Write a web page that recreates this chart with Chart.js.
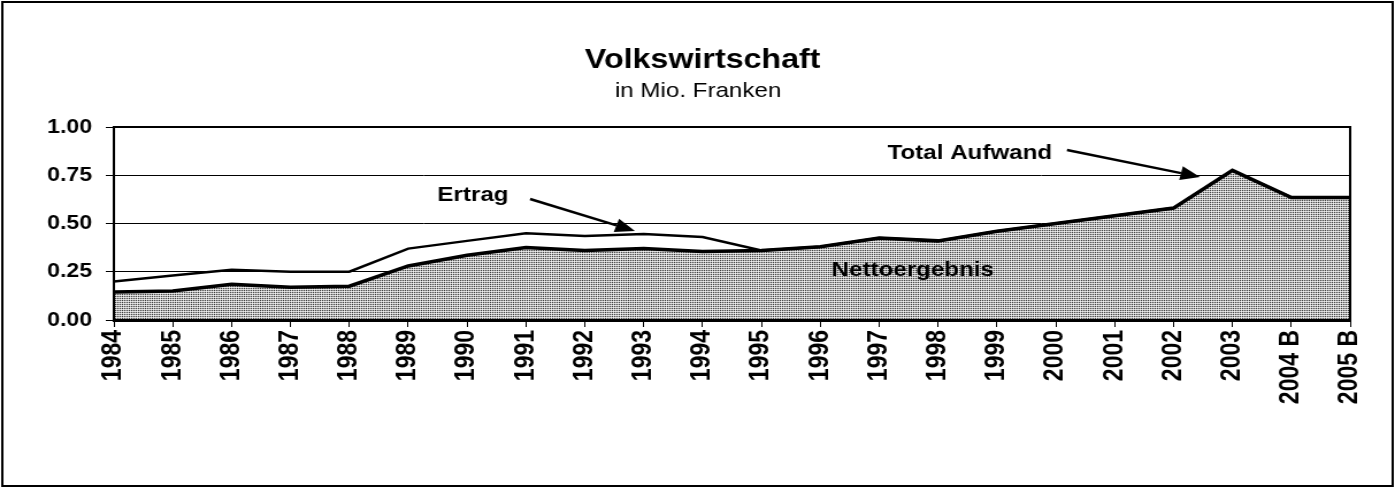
<!DOCTYPE html>
<html>
<head>
<meta charset="utf-8">
<script src="https://cdn.jsdelivr.net/npm/chart.js@4.4.1/dist/chart.umd.min.js"></script>
<style>
html, body { margin: 0; padding: 0; background: #fff; overflow: hidden; }
#wrap { width: 1213px; height: 488px; transform: scaleX(1.15004); transform-origin: 0 0; }
</style>
</head>
<body>
<div id="wrap"><canvas id="chart" width="1213" height="488"></canvas></div>
<script>
const years = ["1984","1985","1986","1987","1988","1989","1990","1991","1992","1993","1994",
    "1995","1996","1997","1998","1999","2000","2001","2002","2003","2004 B","2005 B"];
const ertrag = [0.20,0.23,0.26,0.25,0.25,0.37,0.41,0.45,0.435,0.445,0.43,
    0.36,0.38,0.425,0.41,0.46,0.50,0.54,0.58,0.775,0.635,0.635];
const aufwand = [0.145,0.15,0.185,0.17,0.175,0.28,0.335,0.375,0.36,0.37,0.355,
    0.36,0.38,0.425,0.41,0.46,0.50,0.54,0.58,0.775,0.635,0.635];
const yTicks = [0, 0.25, 0.5, 0.75, 1];

const FONT = "'Liberation Sans', Arial, sans-serif";

// grey stipple like the old excel fill
function stipple() {
    const c = document.createElement("canvas");
    c.width = 2; c.height = 2;
    const g = c.getContext("2d");
    g.fillStyle = "#c8c8c8";
    g.fillRect(0, 0, 2, 2);
    g.fillStyle = "#404040";
    g.fillRect(0, 0, 1, 1);
    g.fillStyle = "#f0f0f0";
    g.fillRect(1, 1, 1, 1);
    return g.createPattern(c, "repeat");
}

function arrow(ctx, x1, y1, x2, y2) {
    const a = Math.atan2(y2 - y1, x2 - x1);
    const len = 17, half = 7;
    const bx = x2 - Math.cos(a) * len, by = y2 - Math.sin(a) * len;
    ctx.beginPath();
    ctx.moveTo(x1, y1);
    ctx.lineTo(bx, by);
    ctx.lineWidth = 2.5;
    ctx.stroke();
    ctx.beginPath();
    ctx.moveTo(x2, y2);
    ctx.lineTo(bx + Math.sin(a) * half, by - Math.cos(a) * half);
    ctx.lineTo(bx - Math.sin(a) * half, by + Math.cos(a) * half);
    ctx.closePath();
    ctx.fill();
}

const decorations = {
    id: "decorations",
    afterDatasetsDraw(chart) {
        const ctx = chart.ctx;
        const area = chart.chartArea;
        const xs = chart.scales.x, ys = chart.scales.y;
        const px = v => xs.getPixelForValue(v);
        const py = v => ys.getPixelForValue(v);
        ctx.save();
        ctx.strokeStyle = "#000";
        ctx.fillStyle = "#000";

        // plot frame
        ctx.lineWidth = 2;
        ctx.strokeRect(area.left, area.top, area.right - area.left, area.bottom - area.top);

        // outer frame
        ctx.strokeRect(2, 2, chart.width - 4, chart.height - 4);

        // titles
        ctx.textAlign = "center";
        ctx.textBaseline = "middle";
        ctx.font = "bold 28px " + FONT;
        ctx.fillText("Volkswirtschaft", 611, 60);
        ctx.font = "21px " + FONT;
        ctx.fillText("in Mio. Franken", 607, 91);

        // annotations
        ctx.font = "bold 21px " + FONT;
        ctx.fillText("Ertrag", px(6.1), py(0.648));
        ctx.fillText("Total Aufwand", px(14.54), py(0.865));
        ctx.fillText("Nettoergebnis", px(13.57), py(0.259));
        arrow(ctx, px(7.07), py(0.627), px(8.85), py(0.461));
        arrow(ctx, px(16.19), py(0.881), px(18.45), py(0.741));
        ctx.restore();
    }
};

const ctx = document.getElementById("chart").getContext("2d");
new Chart(ctx, {
    type: "line",
    data: {
        labels: years,
        datasets: [
            {
                label: "Ertrag",
                data: ertrag,
                borderColor: "#000",
                borderWidth: 2.5,
                pointRadius: 0,
                fill: false,
                tension: 0
            },
            {
                label: "Total Aufwand",
                data: aufwand,
                borderColor: "#000",
                borderWidth: 3.5,
                backgroundColor: stipple(),
                pointRadius: 0,
                fill: "origin",
                tension: 0
            }
        ]
    },
    options: {
        responsive: false,
        devicePixelRatio: 1,
        animation: false,
        layout: { padding: { left: 0, top: 127, right: 39, bottom: 0 } },
        plugins: {
            legend: { display: false },
            tooltip: { enabled: false },
            title: { display: false }
        },
        scales: {
            x: {
                offset: false,
                afterFit: s => { s.height = 168; s.paddingLeft = 0; s.paddingRight = 0; },
                grid: { drawOnChartArea: false, drawTicks: true, tickLength: 7, color: "#000", lineWidth: 1 },
                border: { color: "#000", width: 3 },
                ticks: {
                    autoSkip: false,
                    minRotation: 90,
                    maxRotation: 90,
                    padding: 3,
                    color: "#000",
                    font: { family: FONT, size: 23, weight: "bold" }
                }
            },
            y: {
                min: 0,
                max: 1,
                afterFit: s => { s.width = 99; },
                afterBuildTicks: s => { s.ticks = yTicks.map(v => ({ value: v })); },
                grid: { color: "#000", lineWidth: 1, tickLength: 7 },
                border: { color: "#000", width: 2 },
                ticks: {
                    padding: 12,
                    color: "#000",
                    font: { family: FONT, size: 20, weight: "bold" },
                    callback: v => Number(v).toFixed(2)
                }
            }
        }
    },
    plugins: [decorations]
});
</script>
</body>
</html>
